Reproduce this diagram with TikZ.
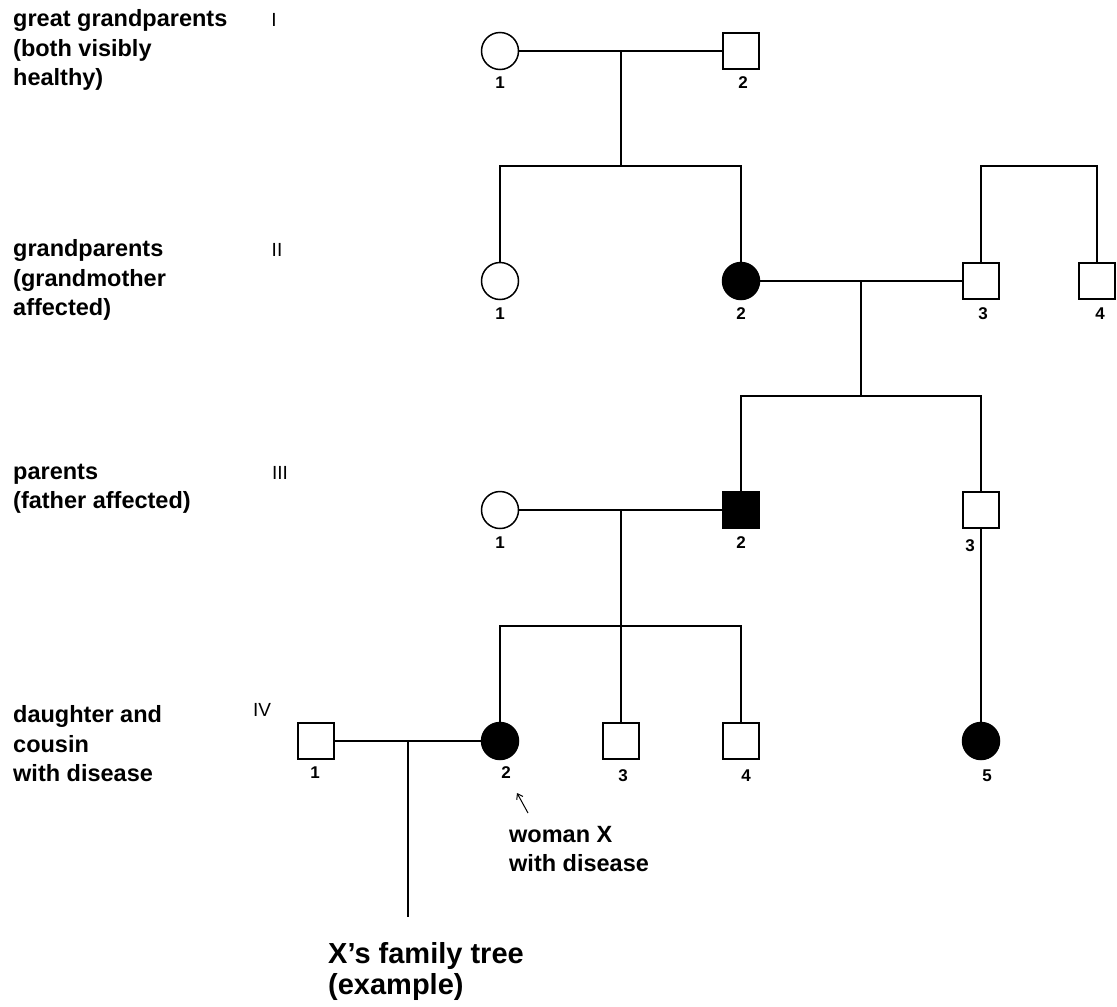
\documentclass[tikz,border=0pt]{standalone}
\usepackage{fontspec}
\setmainfont{Liberation Sans}
\usetikzlibrary{arrows.meta}
\begin{document}
\begin{tikzpicture}[x=1pt,y=-1pt,
  lab/.style={font=\bfseries\fontsize{23.5}{29.5}\selectfont, align=left, anchor=west, inner sep=0},
  big/.style={font=\bfseries\fontsize{29}{31}\selectfont, align=left, anchor=west, inner sep=0},
  gen/.style={font=\fontsize{19}{20}\selectfont, inner sep=0},
  num/.style={font=\bfseries\fontsize{17}{20}\selectfont, inner sep=0},
  fem/.style={circle, draw, line width=1.5pt, minimum size=37pt, inner sep=0},
  mal/.style={rectangle, draw, line width=1.3pt, minimum size=36pt, inner sep=0},
  aff/.style={fill=black},
  ln/.style={line width=1.3pt}]
\useasboundingbox (0,0) rectangle (1117,1007);

% generation labels
\node[lab] (t1) at (13,50) {great grandparents\\(both visibly\\healthy)};
\node[lab] (t2) at (13,280) {grandparents\\(grandmother\\affected)};
\node[lab] (t3) at (13,489) {parents\\(father affected)};
\node[lab] (t4) at (13,744) {daughter and\\cousin\\with disease};
\node[gen] (g1) at (274,20) {I};
\node[gen] (g2) at (277,250) {II};
\node[gen] (g3) at (280,473) {III};
\node[gen] (g4) at (262,710) {IV};

% individuals
\node[fem] (i1) at (500,51) {};
\node[mal] (i2) at (741,51) {};
\node[fem] (ii1) at (500,281) {};
\node[fem,aff] (ii2) at (741,281) {};
\node[mal] (ii3) at (981,281) {};
\node[mal] (ii4) at (1097,281) {};
\node[fem] (iii1) at (500,510) {};
\node[mal,aff] (iii2) at (741,510) {};
\node[mal] (iii3) at (981,510) {};
\node[mal] (iv1) at (316,741) {};
\node[fem,aff] (iv2) at (500,741) {};
\node[mal] (iv3) at (621,741) {};
\node[mal] (iv4) at (741,741) {};
\node[fem,aff] (iv5) at (981,741) {};

% numbers
\node[num] (ni1) at (500,83) {1};
\node[num] (ni2) at (743,83) {2};
\node[num] (nii1) at (500,314) {1};
\node[num] (nii2) at (741,314) {2};
\node[num] (nii3) at (983,314) {3};
\node[num] (nii4) at (1100,314) {4};
\node[num] (niii1) at (500,543) {1};
\node[num] (niii2) at (741,543) {2};
\node[num] (niii3) at (970,546) {3};
\node[num] (niv1) at (315,773) {1};
\node[num] (niv2) at (506,773) {2};
\node[num] (niv3) at (623,776) {3};
\node[num] (niv4) at (746,776) {4};
\node[num] (niv5) at (987,776) {5};

% junction points
\coordinate (m1) at (621,51);
\coordinate (s1) at (621,166);
\coordinate (b2) at (1040,166);
\coordinate (m2) at (861,281);
\coordinate (s2) at (861,396);
\coordinate (m3) at (621,510);
\coordinate (s3) at (621,626);
\coordinate (m4) at (408,741);
\coordinate (e4) at (408,917);

% connectors
\draw[ln] (i1) -- (i2);
\draw[ln] (m1) -- (s1);
\draw[ln] (ii1.north) -- (ii1 |- s1) -- (ii2 |- s1) -- (ii2.north);
\draw[ln] (ii3.north) -- (ii3 |- b2) -- (ii4 |- b2) -- (ii4.north);
\draw[ln] (ii2) -- (ii3);
\draw[ln] (m2) -- (s2);
\draw[ln] (iii2.north) -- (iii2 |- s2) -- (iii3 |- s2) -- (iii3.north);
\draw[ln] (iii1) -- (iii2);
\draw[ln] (m3) -- (iv3.north);
\draw[ln] (iv2.north) -- (iv2 |- s3) -- (iv4 |- s3) -- (iv4.north);
\draw[ln] (iii3.south) -- (iv5.north);
\draw[ln] (iv1) -- (iv2);
\draw[ln] (m4) -- (e4);

% pointer to woman X
\coordinate (at) at (528,813);
\coordinate (ah) at (517,793);
\draw[line width=1pt, -{Straight Barb[length=5pt,width=7pt]}] (at) -- (ah);
\node[lab] (wx) at (509,849) {woman X\\with disease};

\node[big] (ft) at (328,971) {X’s family tree\\(example)};
\end{tikzpicture}
\end{document}
